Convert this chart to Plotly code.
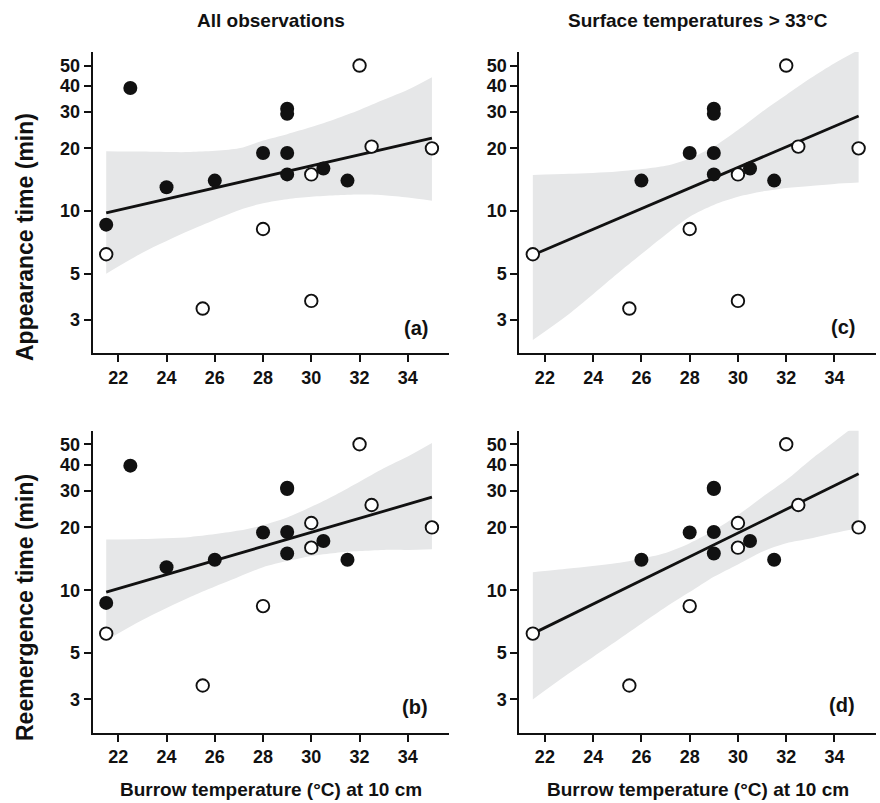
import plotly.graph_objects as go

# ---------------- data ----------------
# burrow temperature (°C) for filled / open symbols
temp_filled_all = [21.5, 22.5, 24, 26, 28, 29, 29, 29, 29, 30.5, 31.5]
temp_filled_hot = [26, 28, 29, 29, 29, 29, 30.5, 31.5]
temp_open = [21.5, 25.5, 28, 30, 30, 32, 32.5, 35]

# appearance time (min)
appear_filled_all = [8.6, 39, 13, 14, 19, 31, 29.3, 19, 15, 16, 14]
appear_filled_hot = [14, 19, 31, 29.3, 19, 15, 16, 14]
appear_open = [6.2, 3.4, 8.2, 15, 3.7, 50, 20.4, 20]

# reemergence time (min)
reemerg_filled_all = [8.7, 39.5, 12.9, 14, 18.9, 31, 30.5, 19, 15, 17.2, 14]
reemerg_filled_hot = [14, 18.9, 31, 30.5, 19, 15, 17.2, 14]
reemerg_open = [6.2, 3.5, 8.4, 21, 16, 50, 25.6, 20]

# fitted lines (end points)
fit_x = [21.5, 35]
fit_a = [9.8, 22.4]
fit_c = [6.15, 28.6]
fit_b = [9.8, 27.9]
fit_d = [6.2, 36.1]

# confidence bands
band_x = [21.5, 23, 25, 27, 28, 29, 30, 31, 32, 33, 34, 35]
band_a_hi = [19.4, 19.3, 19.2, 20.0, 21.8, 23.4, 25.3, 27.7, 30.6, 34.2, 38.2, 43.9]
band_a_lo = [5.0, 6.3, 8.1, 10.1, 10.9, 11.4, 11.7, 11.9, 12.0, 11.9, 11.6, 11.2]
band_c_hi = [14.9, 15.1, 15.5, 16.5, 17.9, 20.4, 24.5, 30.0, 36.1, 43.4, 51.3, 59.4]
band_c_lo = [2.4, 3.2, 5.0, 7.7, 9.4, 10.7, 11.7, 12.4, 12.9, 13.2, 13.5, 13.7]
band_b_hi = [17.5, 17.6, 18.0, 19.3, 20.5, 22.3, 25.1, 28.6, 33.1, 38.4, 43.7, 50.7]
band_b_lo = [5.75, 7.2, 9.3, 11.6, 12.9, 13.8, 14.6, 15.1, 15.4, 15.6, 15.6, 15.7]
band_d_hi = [12.2, 12.7, 13.5, 15.1, 16.8, 19.3, 22.9, 27.9, 33.7, 42.1, 51.6, 63.2]
band_d_lo = [3.0, 4.0, 5.75, 8.3, 9.8, 11.6, 13.3, 15.3, 16.8, 17.7, 18.8, 19.8]

x_ticks = [22, 24, 26, 28, 30, 32, 34]
y_ticks = [3, 5, 10, 20, 30, 40, 50]

col_titles = ["All observations", "Surface temperatures > 33°C"]
x_title = "Burrow temperature (°C) at 10 cm"
y_titles = ["Appearance time (min)", "Reemergence time (min)"]
panel_labels = ["(a)", "(c)", "(b)", "(d)"]

# ---------------- figure ----------------
FONT = "Liberation Sans, Arial, Helvetica, sans-serif"
BAND = "#e6e7e8"
INK = "#111111"

fig = go.Figure()

panels = [
    # axis suffix, filled x, filled y, open y, fit y, band hi, band lo
    ("", temp_filled_all, appear_filled_all, appear_open, fit_a, band_a_hi, band_a_lo),
    ("2", temp_filled_hot, appear_filled_hot, appear_open, fit_c, band_c_hi, band_c_lo),
    ("3", temp_filled_all, reemerg_filled_all, reemerg_open, fit_b, band_b_hi, band_b_lo),
    ("4", temp_filled_hot, reemerg_filled_hot, reemerg_open, fit_d, band_d_hi, band_d_lo),
]

for suf, fx, fy, oy, fit, hi, lo in panels:
    xa, ya = "x" + suf, "y" + suf
    fig.add_trace(go.Scatter(
        x=band_x, y=lo, xaxis=xa, yaxis=ya, mode="lines",
        line=dict(width=0, color=BAND, shape="spline", smoothing=0.8),
        hoverinfo="skip", showlegend=False))
    fig.add_trace(go.Scatter(
        x=band_x, y=hi, xaxis=xa, yaxis=ya, mode="lines",
        fill="tonexty", fillcolor=BAND,
        line=dict(width=0, color=BAND, shape="spline", smoothing=0.8),
        hoverinfo="skip", showlegend=False))
    fig.add_trace(go.Scatter(
        x=fit_x, y=fit, xaxis=xa, yaxis=ya, mode="lines",
        line=dict(color=INK, width=2.8), showlegend=False))
    fig.add_trace(go.Scatter(
        x=fx, y=fy, xaxis=xa, yaxis=ya, mode="markers",
        marker=dict(size=14, color=INK, line=dict(width=0)),
        showlegend=False))
    fig.add_trace(go.Scatter(
        x=temp_open, y=oy, xaxis=xa, yaxis=ya, mode="markers",
        marker=dict(size=12.5, color="white", line=dict(width=1.9, color=INK)),
        showlegend=False))

W, H = 880, 803
xdom_left = [92.7 / W, 449.3 / W]
xdom_right = [519.3 / W, 876 / W]
ydom_top = [1 - 353 / H, 1 - 52 / H]
ydom_bot = [1 - 732.7 / H, 1 - 430.7 / H]

def xaxis(dom, anchor):
    return dict(domain=dom, anchor=anchor, range=[20.94, 35.72],
                tickvals=x_ticks, ticktext=[str(v) for v in x_ticks],
                showline=True, linecolor=INK, linewidth=2,
                ticks="outside", ticklen=7, tickwidth=2, tickcolor=INK,
                showgrid=False, zeroline=False,
                tickfont=dict(family=FONT, size=18, color=INK, weight="bold"))

def yaxis(dom, anchor):
    return dict(domain=dom, anchor=anchor, type="log", range=[0.318, 1.764],
                tickvals=y_ticks, ticktext=[str(v) for v in y_ticks],
                showline=True, linecolor=INK, linewidth=2,
                ticks="outside", ticklen=7, tickwidth=2, tickcolor=INK,
                showgrid=False, zeroline=False,
                tickfont=dict(family=FONT, size=18, color=INK, weight="bold"))

fig.update_layout(
    width=W, height=H, autosize=False,
    margin=dict(l=0, r=0, t=0, b=0),
    paper_bgcolor="white", plot_bgcolor="white",
    showlegend=False,
    xaxis=xaxis(xdom_left, "y"), yaxis=yaxis(ydom_top, "x"),
    xaxis2=xaxis(xdom_right, "y2"), yaxis2=yaxis(ydom_top, "x2"),
    xaxis3=xaxis(xdom_left, "y3"), yaxis3=yaxis(ydom_bot, "x3"),
    xaxis4=xaxis(xdom_right, "y4"), yaxis4=yaxis(ydom_bot, "x4"),
)

tfont = dict(family=FONT, size=19, color=INK, weight="bold")
ann = []
cx = [271 / W, 697.6 / W]
for i, t in enumerate(col_titles):
    ann.append(dict(text=t, x=cx[i], y=1 - 21 / H, xref="paper", yref="paper",
                    xanchor="center", yanchor="middle", showarrow=False, font=tfont))
    ann.append(dict(text=x_title, x=cx[i], y=1 - 789 / H, xref="paper", yref="paper",
                    xanchor="center", yanchor="middle", showarrow=False, font=tfont))
ycent = [1 - 237 / H, 1 - 608 / H]
for i, t in enumerate(y_titles):
    ann.append(dict(text=t, x=25 / W, y=ycent[i], xref="paper", yref="paper",
                    xanchor="center", yanchor="middle", textangle=-90, showarrow=False,
                    font=dict(family=FONT, size=23, color=INK, weight="bold")))
lab_pos = [(430, 328), (857, 327), (430, 707), (857, 705)]
for t, (px, py) in zip(panel_labels, lab_pos):
    ann.append(dict(text=t, x=px / W, y=1 - py / H, xref="paper", yref="paper",
                    xanchor="right", yanchor="middle", showarrow=False,
                    font=dict(family=FONT, size=20, color=INK, weight="bold")))
fig.update_layout(annotations=ann)

fig.write_html("out.html",
               config={"displayModeBar": False},
               post_script="document.body.style.margin='0';document.body.style.overflow='hidden';")
